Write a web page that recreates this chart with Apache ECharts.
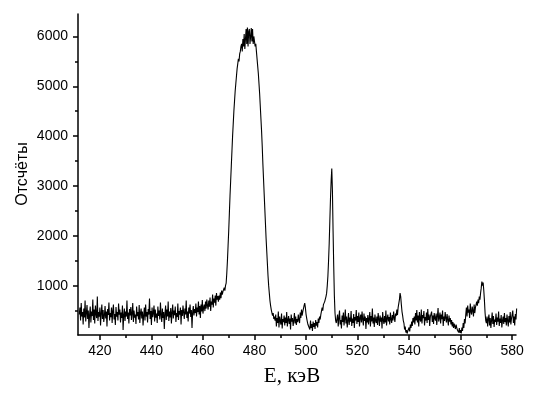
<!DOCTYPE html>
<html>
<head>
<meta charset="utf-8">
<script src="https://cdn.jsdelivr.net/npm/echarts@6/dist/echarts.min.js"></script>
<style>
  html, body { margin: 0; padding: 0; background: #fff; }
  #chart { width: 545px; height: 400px; }
</style>
</head>
<body>
<div id="chart"></div>
<script>
// channel calibration: first channel energy and width, keV
const energyStart = 412
const energyStep = 0.25

// counts (4 channels per keV)
const baseLow = [
  420, 560, 300, 650, 380, 470, 220, 540, 360, 700, 280, 450, 610, 330, 500, 150, 420, 580, 260, 480,
  390, 720, 310, 520, 240, 600, 430, 350, 780, 290, 470, 380, 560, 200, 440, 620, 330, 510, 270, 400,
  590, 340, 480, 180, 530, 410, 660, 300, 450, 370, 560, 250, 490, 620, 320, 430, 210, 570, 380, 470,
  300, 640, 420, 520, 260, 460, 350, 600, 110, 410, 540, 290, 480, 380, 700, 330, 460, 240, 530, 400,
  570, 310, 440, 650, 270, 500, 360, 420, 230, 580, 390, 470, 320, 610, 250, 450, 540, 340, 480, 200,
  410, 560, 300, 620, 380, 470, 260, 530, 420, 740, 330, 490, 210, 560, 370, 450, 600, 280, 520, 360,
  440, 250, 580, 390, 500, 320, 660, 410, 270, 540, 350, 470, 130, 430, 600, 310, 520, 380, 680, 290,
  480, 360, 550, 240, 460, 620, 340, 500, 410, 580, 270, 450, 370, 640, 310, 490, 420, 560, 220, 510,
  390, 600, 460, 330, 540, 420, 700, 350, 480, 280, 560, 440, 620, 370, 510, 150, 470, 590, 400, 530,
  450, 640, 380, 560, 470, 680, 420, 590, 350, 620, 480, 710, 440, 560, 620, 490, 680, 540, 720, 600
]
const shoulder = [520, 700, 580, 760, 490, 680, 620, 820, 560, 740, 660, 800, 600, 850, 720, 790]
const mainPeak = [
  680, 800, 720, 860, 750, 900, 820, 880, 850, 960, 900, 1000,
  1050, 1250, 1500, 1800, 2100, 2450, 2800, 3100, 3400, 3700, 4000, 4250,
  4500, 4700, 4900, 5050, 5200, 5350, 5450, 5550, 5500, 5650, 5700, 5800,
  5850, 5700, 5950, 5800, 6050, 5750, 5950, 6150, 5850, 6180, 5800, 6100,
  6150, 5850, 6000, 6170, 5900, 6150, 5850, 6000, 5900, 5800, 5850, 5700,
  5550, 5400, 5250, 5050, 4850, 4600, 4350, 4100, 3800, 3450, 3150, 2850,
  2550, 2250, 1950, 1700, 1450, 1200, 1000, 850, 700, 600, 520, 480,
  400, 450, 330, 380
]
const valley = [
  300, 420, 180, 350, 250, 480, 160, 380, 290, 220, 440, 140, 330, 270, 400, 200,
  360, 250, 470, 180, 310, 390, 230, 340, 120, 420, 280, 350, 190, 300, 450, 240,
  380, 210, 330, 270, 420, 310, 250, 460, 350, 520, 400, 480
]
const bump499 = [520, 600, 650, 560, 430, 350, 280, 220]
const dip501 = [180, 260, 120, 300, 150, 230, 90, 280, 170, 250, 130, 310, 200, 270, 160, 340, 250, 380, 320, 420]
const peak510 = [
  450, 560, 500, 620, 580, 680, 640, 780, 850, 1000, 1200, 1500,
  1850, 2300, 2750, 3100, 3350, 2900, 2100, 1400, 800, 450, 300, 250
]
const baseMid = [
  250, 420, 180, 350, 500, 220, 310, 140, 400, 270, 460, 200, 330, 520, 240, 380,
  160, 300, 450, 210, 360, 280, 490, 190, 340, 250, 430, 150, 370, 300, 510, 230,
  390, 270, 460, 180, 350, 420, 260, 480, 320, 200, 440, 290, 380, 130, 350, 260,
  410, 220, 330, 470, 180, 390, 280, 540, 240, 360, 170, 420, 300, 250, 380, 210,
  450, 330, 190, 400, 280, 360, 140, 470, 310, 230, 390, 260, 500, 200, 340, 420,
  280, 370, 220, 460, 330, 250, 410, 300, 480, 360, 270, 440, 390, 520, 410, 560
]
const bump537 = [600, 720, 850, 780, 620, 480, 400, 300]
const dip539 = [250, 120, 180, 60, 110, 40, 90, 50, 160, 80, 220, 150, 280, 190, 350, 260]
const baseHigh = [
  380, 220, 450, 300, 510, 260, 400, 180, 470, 330, 280, 520, 240, 410, 350, 490, 200,
  370, 300, 460, 250, 530, 310, 420, 190, 380, 340, 480, 270, 400, 230, 450, 350,
  300, 440, 210, 390, 550, 280, 360, 460, 240, 420, 330, 500, 190, 380, 290, 470,
  350, 260, 430, 310, 200, 400, 280, 350, 220, 310, 180, 270, 150, 240, 200, 130, 220, 160, 110
]
const dip560 = [90, 60, 150, 50, 110, 40, 160, 90, 250, 150, 330, 240]
const step563 = [
  420, 560, 380, 600, 460, 520, 350, 640, 480, 420, 580, 500,
  380, 620, 450, 560, 520, 680, 600, 720, 650, 780, 720, 850
]
const bump569 = [950, 1080, 1000, 1060, 900, 700, 450, 300]
const tail = [
  250, 380, 180, 330, 420, 200, 350, 150, 300, 460, 230, 390, 170, 320, 270, 440,
  210, 360, 280, 480, 190, 340, 250, 410, 160, 300, 380, 230, 450, 270, 350, 200,
  420, 300, 180, 390, 260, 470, 220, 340, 300, 500, 250, 380, 200, 430, 320, 540
]

const xTicks = [420, 440, 460, 480, 500, 520, 540, 560, 580]
const xMinor = [430, 450, 470, 490, 510, 530, 550, 570]
const yTicks = [1000, 2000, 3000, 4000, 5000, 6000]
const yMinor = [500, 1500, 2500, 3500, 4500, 5500]

const counts = [].concat(baseLow, shoulder, mainPeak, valley, bump499, dip501,
  peak510, baseMid, bump537, dip539, baseHigh, dip560, step563, bump569, tail)
const seriesData = counts.map((c, i) => [energyStart + i * energyStep, c])

const labelFont = { color: '#000', fontSize: 14, fontFamily: 'Liberation Sans, Arial, sans-serif' }
const xRange = { min: 411.5, max: 581.5 }
const yRange = { min: 10, max: 6450 }

const chart = echarts.init(document.getElementById('chart'))
chart.setOption({
  animation: false,
  grid: { left: 78, right: 29, top: 14, bottom: 65 },
  xAxis: [
    {
      type: 'value', ...xRange,
      axisLine: { lineStyle: { color: '#000', width: 1.5 } },
      axisTick: { customValues: xTicks, length: 5, lineStyle: { color: '#000', width: 1.5 } },
      axisLabel: { customValues: xTicks, margin: 9, formatter: v => String(v), ...labelFont },
      splitLine: { show: false }
    },
    {
      type: 'value', ...xRange, position: 'bottom',
      axisLine: { show: false },
      axisTick: { customValues: xMinor, length: 3, lineStyle: { color: '#000', width: 1.5 } },
      axisLabel: { show: false },
      splitLine: { show: false }
    }
  ],
  yAxis: [
    {
      type: 'value', ...yRange,
      axisLine: { show: true, lineStyle: { color: '#000', width: 1.5 } },
      axisTick: { show: true, customValues: yTicks, length: 5, lineStyle: { color: '#000', width: 1.5 } },
      axisLabel: { customValues: yTicks, margin: 10, formatter: v => String(v), ...labelFont },
      splitLine: { show: false }
    },
    {
      type: 'value', ...yRange, position: 'left',
      axisLine: { show: false },
      axisTick: { show: true, customValues: yMinor, length: 3, lineStyle: { color: '#000', width: 1.5 } },
      axisLabel: { show: false },
      splitLine: { show: false }
    }
  ],
  graphic: [
    {
      type: 'text', x: 23, y: 174, rotation: Math.PI / 2,
      style: { text: 'Отсчёты', fill: '#000', font: '16px "Liberation Sans", Arial, sans-serif',
        align: 'center', verticalAlign: 'middle' }
    },
    {
      type: 'text', x: 292, y: 376,
      style: { text: 'E, кэВ', fill: '#000', font: '21px "Liberation Serif", "Times New Roman", serif',
        align: 'center', verticalAlign: 'middle' }
    }
  ],
  series: [{
    type: 'line',
    data: seriesData,
    showSymbol: false,
    symbol: 'none',
    lineStyle: { color: '#000', width: 1.1 }
  }]
})
</script>
</body>
</html>
